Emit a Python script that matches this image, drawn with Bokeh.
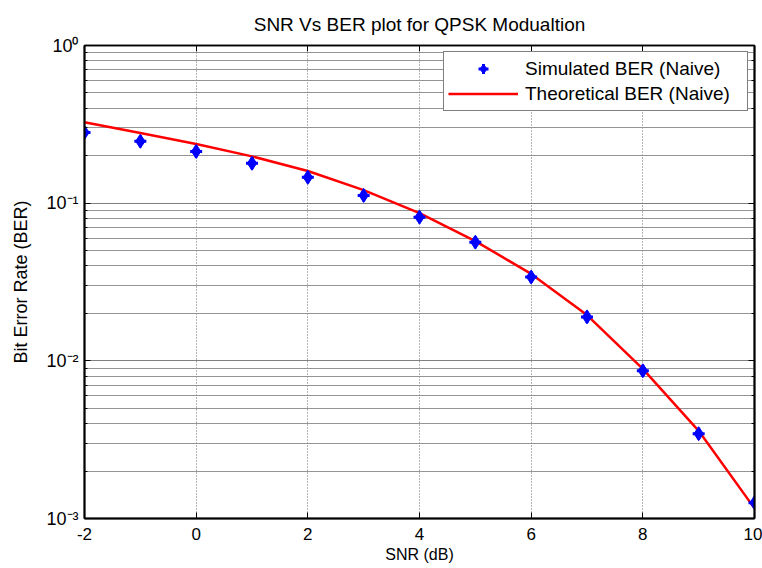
from bokeh.plotting import figure
from bokeh.models import (LinearAxis, LogAxis, Legend, LegendItem,
                          SingleIntervalTicker, ColumnDataSource, Range1d,
                          CustomJSTickFormatter)
from bokeh.embed import file_html
from bokeh.resources import INLINE

# ---- data ----
snr_db = [-2, -1, 0, 1, 2, 3, 4, 5, 6, 7, 8, 9, 10]
ber_simulated = [0.281, 0.247, 0.213, 0.179, 0.146, 0.112, 0.0815, 0.0566,
                 0.034, 0.019, 0.00865, 0.00345, 0.00126]
ber_theoretical = [0.326, 0.279, 0.237, 0.198, 0.160, 0.121, 0.0865, 0.0575,
                   0.0356, 0.0195, 0.0089, 0.0036, 0.00116]
x_ticks = [-2, 0, 2, 4, 6, 8, 10]

title_text = "SNR Vs BER plot for QPSK Modualtion"
x_label = "SNR (dB)"
y_label = "Bit Error Rate (BER)"
sim_label = "Simulated BER (Naive)"
theo_label = "Theoretical BER (Naive)"

FONT = "Liberation Sans"

p = figure(width=762, height=568, y_axis_type="log",
           x_range=Range1d(-2, 10), y_range=Range1d(1e-3, 1),
           output_backend="svg", toolbar_location=None,
           min_border_left=84, min_border_right=8,
           min_border_top=44, min_border_bottom=50)

p.title.text = title_text
p.title.align = "center"
p.title.text_font = FONT
p.title.text_font_size = "19px"
p.title.text_font_style = "normal"
p.title.text_color = "#000000"
p.title.standoff = 22

p.outline_line_color = "black"
p.outline_line_width = 1.5
p.background_fill_color = "white"
p.border_fill_color = "white"

# grids
p.xgrid.grid_line_color = "#6f6f6f"
p.xgrid.grid_line_dash = "1 2"
p.xgrid.grid_line_width = 1
p.ygrid.grid_line_color = "#808080"
p.ygrid.grid_line_width = 1
p.ygrid.minor_grid_line_color = "#949494"
p.ygrid.minor_grid_line_width = 1

# bottom x axis
xa = p.xaxis[0]
xa.ticker = SingleIntervalTicker(interval=2, num_minor_ticks=0)
xa.major_label_overrides = {v: str(v) for v in x_ticks}
xa.axis_label = x_label
xa.axis_label_text_font = FONT
xa.axis_label_text_font_size = "16px"
xa.axis_label_text_font_style = "normal"
xa.axis_label_text_color = "#000000"
xa.axis_label_standoff = 3
xa.major_label_text_font = FONT
xa.major_label_text_font_size = "17px"
xa.major_label_text_color = "#000000"
xa.major_label_standoff = 9
xa.axis_line_width = 2
xa.major_tick_in = 6
xa.major_tick_out = 0
xa.minor_tick_in = 0
xa.minor_tick_out = 0

# left y axis with 10^k labels
ya = p.yaxis[0]
ya.formatter = CustomJSTickFormatter(code="""
    const sup = {'-': '\u207b', '0': '\u2070', '1': '\u00b9', '2': '\u00b2',
                 '3': '\u00b3', '4': '\u2074', '5': '\u2075', '6': '\u2076',
                 '7': '\u2077', '8': '\u2078', '9': '\u2079'};
    const e = String(Math.round(Math.log10(tick)));
    let s = '';
    for (const c of e) { s += sup[c]; }
    return '10' + s;
""")
ya.axis_label = y_label
ya.axis_label_text_font = FONT
ya.axis_label_text_font_size = "18px"
ya.axis_label_text_font_style = "normal"
ya.axis_label_text_color = "#000000"
ya.axis_label_standoff = 12
ya.major_label_text_font = FONT
ya.major_label_text_font_size = "18px"
ya.major_label_text_color = "#000000"
ya.major_label_standoff = 6
ya.axis_line_width = 2
ya.major_tick_in = 6
ya.major_tick_out = 0
ya.minor_tick_in = 3
ya.minor_tick_out = 0

# box axes (no labels)
top = LinearAxis(ticker=SingleIntervalTicker(interval=2, num_minor_ticks=0),
                 major_label_text_font_size="1px", major_label_text_color=None,
                 major_tick_in=6, major_tick_out=0, minor_tick_in=0,
                 minor_tick_out=0, axis_line_width=1.5, major_label_standoff=0)
p.add_layout(top, "above")
right = LogAxis(major_label_text_font_size="1px", major_label_text_color=None,
                major_tick_in=6, major_tick_out=0, minor_tick_in=3,
                minor_tick_out=0, axis_line_width=2, major_label_standoff=0)
p.add_layout(right, "right")

src = ColumnDataSource(dict(x=snr_db, sim=ber_simulated, theo=ber_theoretical))

r_line = p.line("x", "theo", source=src, line_color="#ff0000", line_width=2.5)
r_dia = p.scatter("x", "sim", source=src, marker="diamond", size=14,
                  fill_color="#0000ff", line_color="#0000ff")
r_cross = p.scatter("x", "sim", source=src, marker="cross", size=12,
                    line_color="#0000ff", line_width=3)

legend = Legend(items=[LegendItem(label=sim_label, renderers=[r_dia, r_cross]),
                       LegendItem(label=theo_label, renderers=[r_line])],
                location="top_right")
legend.margin = 6
legend.padding = 4
legend.spacing = 0
legend.glyph_width = 70
legend.glyph_height = 25
legend.label_height = 25
legend.label_width = 218
legend.label_standoff = 7
legend.label_text_font = FONT
legend.label_text_font_size = "19px"
legend.label_text_color = "#000000"
legend.border_line_color = "black"
legend.border_line_width = 1
legend.background_fill_alpha = 1
p.add_layout(legend)

open("out.html", "w").write(file_html(p, INLINE))
